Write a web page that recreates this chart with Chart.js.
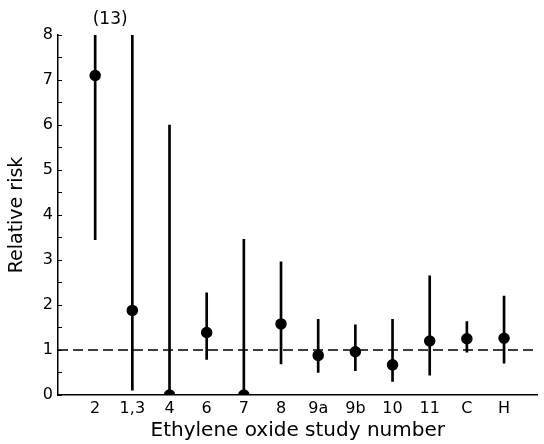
<!DOCTYPE html>
<html>
<head>
<meta charset="utf-8">
<style>
  html, body { margin: 0; padding: 0; background: #fff; }
  #riskChart { display: block; }
</style>
</head>
<body>
<canvas id="riskChart" width="544" height="444"></canvas>

<script src="https://cdn.jsdelivr.net/npm/chart.js"></script>

<script>
  // study labels along the x axis
  const studies = ['2', '1,3', '4', '6', '7', '8', '9a', '9b', '10', '11', 'C', 'H'];
  // point estimates of relative risk
  const relRisk = [7.1, 1.88, 0, 1.39, 0, 1.58, 0.88, 0.96, 0.67, 1.2, 1.25, 1.26];
  // confidence interval limits (upper for study 2 is 13, off the scale)
  const ciLow = [3.45, 0.11, 0, 0.79, 0, 0.69, 0.5, 0.54, 0.3, 0.44, 0.95, 0.71];
  const ciHigh = [13, 9, 6, 2.27, 3.46, 2.96, 1.68, 1.56, 1.68, 2.65, 1.63, 2.2];
  // reference line at RR = 1
  const refValue = 1;
  const offScaleNote = '(13)';

  const fontFamily = '"DejaVu Sans", Verdana, sans-serif';

  const pointData = studies.map(function (s, i) { return { x: i, y: relRisk[i] }; });
  const ciData = studies.map(function (s, i) { return { x: i, y: [ciLow[i], ciHigh[i]] }; });

  // writes the "(13)" note above study 2, whose interval runs off the top
  const notePlugin = {
      id: 'offScaleNote',
      afterDraw: function (chart) {
          const ctx = chart.ctx;
          const x = chart.scales.x.getPixelForValue(0) + 15;
          const y = chart.scales.y.getPixelForValue(8) - 15;
          ctx.save();
          ctx.fillStyle = '#000';
          ctx.font = '17px ' + fontFamily;
          ctx.textAlign = 'center';
          ctx.textBaseline = 'middle';
          ctx.fillText(offScaleNote, x, y);
          ctx.restore();
      }
  };

  const ctx = document.getElementById('riskChart');
  var riskChart = new Chart(ctx, {
      data: {
          datasets: [
              {
                  type: 'line',
                  label: 'RR = 1',
                  data: [{ x: -1, y: refValue }, { x: 11.9, y: refValue }],
                  borderColor: '#000',
                  borderWidth: 1.6,
                  borderDash: [10, 5],
                  pointRadius: 0,
                  order: 3,
              },
              {
                  type: 'bar',
                  label: '95% CI',
                  data: ciData,
                  backgroundColor: '#000',
                  borderWidth: 0,
                  barThickness: 2,
                  order: 2,
              },
              {
                  type: 'scatter',
                  label: 'Relative risk',
                  data: pointData,
                  backgroundColor: '#000',
                  borderColor: '#000',
                  pointRadius: 5,
                  borderWidth: 1.5,
                  order: 1,
              },
          ]
      },
      plugins: [notePlugin],
      options: {
          responsive: false,
          animation: false,
          layout: {
              padding: { top: 35, right: 0, left: 0, bottom: 0 }
          },
          plugins: {
              legend: { display: false },
              tooltip: { enabled: false },
              title: { display: false },
          },
          scales: {
              x: {
                  type: 'linear',
                  min: -1,
                  max: 11.9,
                  offset: false,
                  afterFit: function (scale) { scale.height = 49; },
                  afterBuildTicks: function (scale) {
                      scale.ticks = studies.map(function (s, i) { return { value: i }; });
                  },
                  grid: { display: false, drawTicks: false, tickLength: 0 },
                  border: { color: '#000', width: 1.5 },
                  ticks: {
                      autoSkip: false,
                      maxRotation: 0,
                      color: '#000',
                      padding: 4,
                      font: { family: fontFamily, size: 16 },
                      callback: function (value) {
                          return studies[value] !== undefined ? studies[value] : '';
                      }
                  },
                  title: {
                      display: true,
                      text: 'Ethylene oxide study number',
                      color: '#000',
                      padding: { top: 0, bottom: 1 },
                      font: { family: fontFamily, size: 20, lineHeight: 1.2 }
                  }
              },
              y: {
                  min: 0,
                  max: 8,
                  afterFit: function (scale) { scale.width = 58; },
                  grid: {
                      drawOnChartArea: false,
                      tickLength: -4,
                      color: '#000',
                      tickWidth: 1,
                  },
                  border: { color: '#000', width: 1.5 },
                  ticks: {
                      stepSize: 0.5,
                      color: '#000',
                      padding: 9,
                      font: { family: fontFamily, size: 16 },
                      callback: function (value) {
                          return Number.isInteger(value) ? value : '';
                      }
                  },
                  title: {
                      display: true,
                      text: 'Relative risk',
                      color: '#000',
                      padding: { top: 6, bottom: 0 },
                      font: { family: fontFamily, size: 19, lineHeight: 1.2 }
                  }
              }
          }
      }
  });
</script>
</body>
</html>
